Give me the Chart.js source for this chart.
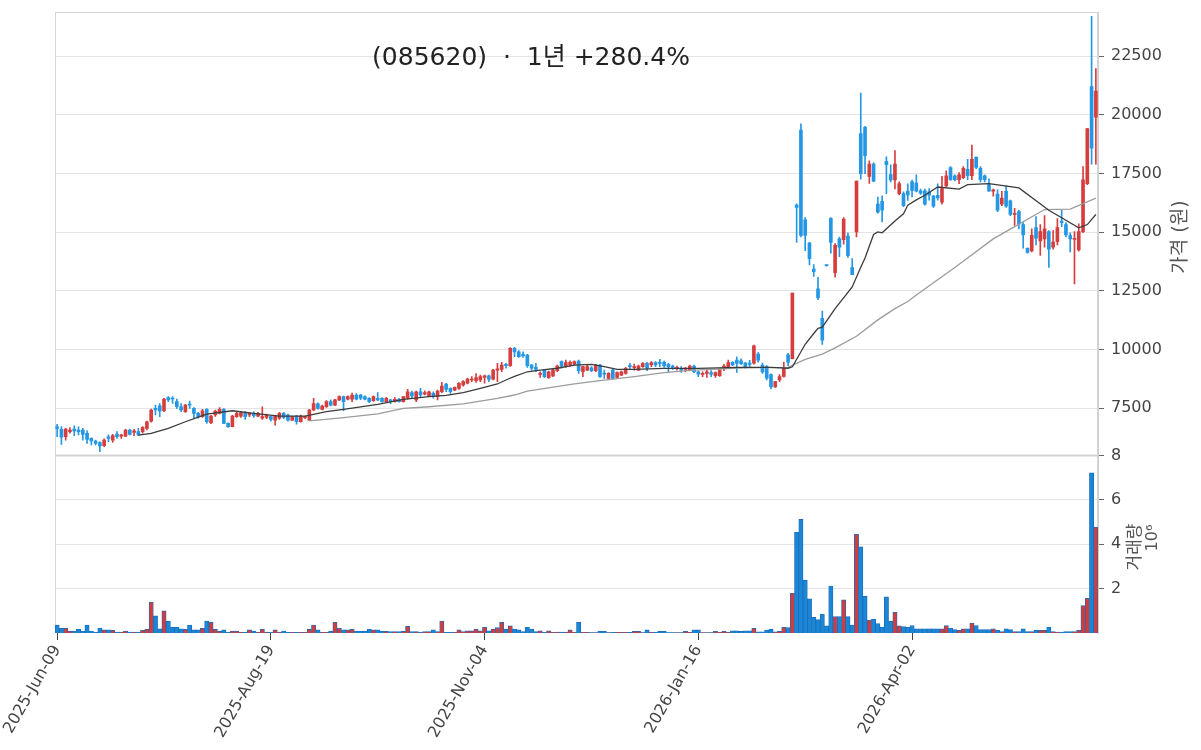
<!DOCTYPE html>
<html lang="ko">
<head>
<meta charset="UTF-8">
<title>085620 1년 차트</title>
<script src="https://cdn.jsdelivr.net/npm/chart.js"></script>
<style>
  html, body { margin: 0; background: #fff; }
  canvas { display: block; }
</style>
</head>
<body>
<canvas id="chart" width="1201" height="750"></canvas>
<script>
// daily OHLC (원), one entry per trading day
const openP = [
  6700,6600,6280,6500,6610,6570,6570,6430,6210,6100,
  6030,5900,6280,6140,6400,6310,6310,6570,6470,6500,
  6500,6640,6950,7490,7600,7390,7950,7920,7780,7560,
  7350,7660,7490,7280,7140,7450,6880,7210,7280,7450,
  6850,6710,7140,7160,7310,7210,7280,7160,7070,7110,
  7140,6990,7070,7280,7210,6990,7160,6920,7090,6990,
  7420,7680,7450,7560,7780,7630,7850,7990,7880,7880,
  8060,8060,7990,7920,7820,7920,7920,7780,7850,7780,
  7880,7780,7920,8160,7850,8200,8100,8020,8130,7990,
  8200,8530,8340,8270,8340,8490,8560,8700,8670,8700,
  8810,8880,8730,9120,9150,9370,9310,10050,9900,9790,
  9760,9340,9240,8940,9120,8800,8870,9100,9480,9290,
  9340,9370,9510,9050,9120,9220,9100,9340,8980,8770,
  9120,8810,8910,8980,9310,9220,9120,9270,9410,9340,
  9440,9450,9450,9370,9290,9200,9200,9150,9120,9290,
  9050,8940,8980,9010,8880,8880,9240,9270,9450,9550,
  9520,9420,9420,9420,9800,9340,9280,8930,8400,8700,
  8850,9770,9610,16150,19350,15520,14530,13420,12580,11330,
  13590,15590,13270,14710,14680,14830,13490,15010,19200,19460,
  17370,17900,16190,16310,18010,17450,17220,16640,16640,16750,
  17140,17090,16760,16760,16710,16530,16570,16270,16970,17750,
  17400,17230,17320,17670,17400,18190,17720,17400,17020,16740,
  16620,16190,16740,16330,15750,15870,15320,14310,14200,15190,
  14620,14710,15020,14360,14590,15470,15320,14850,14690,14240,
  15020,17060,21200,19890
];
const highP = [
  6810,6710,6640,6670,6750,6700,6640,6530,6240,6140,
  6070,6190,6360,6380,6500,6380,6600,6610,6600,6640,
  6710,6950,7460,7630,7700,7920,7990,7990,7890,7700,
  7660,7800,7520,7320,7450,7480,7190,7420,7520,7480,
  6870,7190,7320,7350,7350,7310,7340,7320,7560,7250,
  7160,7190,7320,7320,7250,7160,7190,7210,7160,7450,
  7920,7730,7630,7820,7850,7880,8030,8010,8030,8140,
  8120,8090,8030,7950,8030,8160,7950,7960,7880,7950,
  7920,7990,8300,8230,8230,8340,8240,8230,8200,8270,
  8600,8560,8370,8410,8590,8670,8780,8840,8970,8910,
  8910,8910,9150,9410,9450,9410,10080,10090,9950,9900,
  9790,9370,9410,9050,9150,9080,9170,9340,9520,9550,
  9520,9520,9550,9290,9340,9270,9370,9370,9120,9010,
  9150,9050,9080,9240,9410,9380,9340,9440,9450,9480,
  9480,9580,9510,9410,9340,9290,9270,9240,9340,9340,
  9080,9050,9150,9100,9050,9150,9370,9550,9480,9690,
  9600,9450,9540,10190,9870,9420,9310,8960,8640,8930,
  9460,9840,12400,16200,19610,15620,14560,13620,13070,11640,
  13610,15620,14510,14790,15620,14970,13870,17170,20920,19500,
  18030,17950,16490,16540,18210,17860,18470,17140,16720,17060,
  17220,17440,16830,16830,16850,16570,17060,17370,17610,17790,
  17440,17540,17790,18100,18710,18190,17790,17440,17270,16830,
  16800,16740,16970,16360,16010,15930,15400,14330,15140,15660,
  15320,15700,15060,15060,15580,15930,15400,14970,15020,15350,
  17790,19410,24190,21960
];
const lowP = [
  6280,5960,6140,6430,6330,6360,6140,6000,5930,5930,
  5650,5860,6070,6040,6210,6210,6280,6360,6330,6330,
  6430,6570,6900,7210,7140,7350,7780,7700,7490,7350,
  7320,7490,7090,7070,7110,6850,6840,7150,7250,6840,
  6680,6700,7100,7110,7020,7140,7110,7140,7020,7050,
  6950,6780,7020,7050,6950,6970,6820,6900,7050,6970,
  7390,7460,7420,7530,7590,7610,7820,7390,7850,7780,
  7850,7860,7850,7730,7790,7820,7750,7750,7690,7750,
  7750,7750,7880,7920,7780,7990,8060,7990,7920,7850,
  8160,8200,8130,8240,8300,8440,8530,8630,8600,8630,
  8560,8630,8700,8630,9050,9200,9280,9690,9660,9660,
  9240,9120,9050,8810,8800,8770,8840,9050,9200,9240,
  9280,9340,8980,8840,9100,9050,9050,8810,8770,8740,
  8730,8780,8880,8950,9150,9120,9100,9240,9100,9270,
  9270,9270,9240,9050,9150,9120,9020,9050,9100,9010,
  8840,8840,8810,8840,8810,8850,9100,9240,9310,9020,
  9360,9200,9270,9370,9460,8980,8700,8320,8380,8630,
  8820,9310,9600,14560,14790,14210,13600,13110,12120,10220,
  13550,14100,13080,13950,14480,13920,13190,14790,17250,17490,
  17070,17150,15810,15430,16640,17140,16840,16580,16080,16350,
  16500,16710,16600,16150,16360,16050,16360,16190,16920,17200,
  17180,17060,17270,17230,17230,17700,17140,17140,16740,16530,
  15870,16130,16050,15700,15280,15140,14310,14100,14150,14450,
  14010,14360,13490,14270,14450,15230,14790,14150,12790,14190,
  14970,17020,17890,17890
];
const closeP = [
  6640,6260,6610,6570,6530,6500,6380,6170,6100,6000,
  5890,6140,6210,6330,6280,6360,6570,6380,6530,6360,
  6680,6920,7420,7420,7380,7890,7850,7890,7560,7420,
  7630,7630,7280,7140,7390,6920,7160,7380,7450,6850,
  6710,7160,7280,7310,7140,7280,7180,7280,7140,7210,
  7020,7160,7280,7110,6990,7140,6920,7160,7140,7420,
  7700,7490,7590,7780,7630,7850,7990,7780,7990,8060,
  7880,7920,7880,7780,7990,7850,7780,7920,7780,7880,
  7780,7990,8200,8020,8200,8060,8160,8200,7990,8230,
  8440,8300,8200,8390,8560,8630,8740,8730,8800,8840,
  8880,8730,9120,9170,9340,9310,10050,9900,9690,9730,
  9310,9200,9150,8980,8840,9050,9120,9290,9290,9440,
  9450,9480,9100,9270,9270,9100,9340,8840,8950,8980,
  8770,9010,9050,9200,9270,9270,9290,9410,9200,9440,
  9340,9410,9310,9270,9240,9240,9120,9200,9290,9050,
  8950,8980,9050,8950,9010,9120,9290,9440,9340,9410,
  9400,9270,9360,10150,9540,9040,8780,8400,8630,8850,
  9190,9460,12400,16050,14860,14860,13870,13310,12200,10400,
  13570,14560,14440,14360,15550,14000,13190,17170,17490,18250,
  17900,17170,15850,15930,17870,17220,17900,17070,16120,16580,
  16780,16740,16660,16190,16570,16100,16450,16850,17400,17230,
  17230,17440,17720,17400,18100,17750,17230,17230,16740,16800,
  15930,16450,16100,15750,15800,15350,14880,14130,14860,14740,
  15020,15140,14270,14570,15190,15400,14880,14710,14730,15020,
  17230,19410,18570,21010
];
// 거래량 (백만 주)
const volM = [
  .36,.21,.21,.09,.09,.17,.09,.36,.09,.03,
  .21,.14,.14,.12,.04,.04,.09,.04,.04,.04,
  .12,.18,1.38,.77,.19,1.0,.54,.26,.26,.19,
  .17,.36,.14,.14,.21,.54,.48,.17,.07,.14,
  .03,.09,.09,.03,.03,.14,.09,.03,.17,.03,
  .03,.14,.03,.09,.03,.03,.03,.03,.03,.17,
  .36,.14,.03,.03,.09,.48,.21,.14,.14,.17,
  .09,.09,.09,.17,.14,.14,.08,.08,.06,.06,
  .06,.08,.3,.06,.06,.04,.06,.06,.14,.06,
  .54,.03,.03,.03,.14,.06,.1,.1,.18,.1,
  .26,.1,.18,.24,.48,.18,.32,.18,.14,.06,
  .26,.18,.06,.1,.03,.1,.03,.04,.04,.04,
  .14,.04,.48,.03,.03,.02,.02,.08,.08,.02,
  .03,.03,.03,.03,.03,.08,.08,.02,.14,.03,
  .03,.08,.08,.02,.02,.02,.02,.08,.03,.14,
  .14,.02,.02,.02,.08,.03,.08,.03,.1,.1,
  .08,.1,.1,.21,.05,.05,.13,.18,.05,.08,
  .26,.24,1.79,4.54,5.12,2.39,1.54,.71,.6,.84,
  .32,2.12,.74,.74,1.49,.74,.36,4.45,3.88,1.65,
  .58,.63,.42,.27,1.63,.53,.93,.32,.29,.26,
  .33,.19,.19,.19,.19,.19,.19,.19,.33,.22,
  .15,.12,.19,.19,.45,.33,.15,.15,.15,.19,
  .12,.06,.19,.15,.06,.06,.19,.06,.06,.12,
  .12,.12,.26,.06,.04,.04,.06,.06,.06,.12,
  1.24,1.56,7.22,4.78
];
// moving averages: [day index, value]
const ma20 = [
  [19,6355],[22,6430],[26,6640],[30,6920],[33,7120],[35,7250],[41,7390],[46,7280],
  [52,7160],[58,7160],[63,7350],[67,7450],[75,7660],[81,7870],[87,7990],[91,8045],
  [95,8160],[99,8340],[103,8530],[105,8700],[107,8850],[110,9050],[113,9120],[117,9200],
  [121,9330],[125,9365],[128,9266],[131,9150],[135,9150],[142,9195],[150,9195],[159,9234],
  [167,9234],[171,9200],[172,9260],[175,10220],[177,10680],[178,10900],[179,10950],[182,11740],
  [186,12660],[188,13500],[189,13900],[191,14900],[192,15010],[193,14970],[196,15470],[198,15780],
  [199,16150],[201,16370],[203,16570],[206,16920],[211,16830],[213,17020],[218,17060],[225,16880],
  [232,15930],[239,15180],[241,15320],[243,15750]
];
const ma60 = [
  [59,6960],[67,7100],[75,7260],[81,7490],[87,7560],[95,7680],[103,7920],[107,8060],
  [110,8230],[121,8530],[127,8670],[135,8840],[142,9010],[149,9120],[161,9220],[171,9234],
  [175,9580],[179,9800],[182,10070],[187,10560],[192,11260],[196,11740],[199,12045],[201,12320],
  [210,13490],[219,14710],[224,15230],[231,15960],[237,15980],[243,16450]
];
const tickIdx = [0, 50, 100, 150, 200];
const tickLabels = ['2025-Jun-09', '2025-Aug-19', '2025-Nov-04', '2026-Jan-16', '2026-Apr-02'];
const priceTicks = [7500, 10000, 12500, 15000, 17500, 20000, 22500];
const volTicks = [2, 4, 6, 8];

const FONT = '"DejaVu Sans", "Noto Sans CJK KR", sans-serif';
const UP = '#d63f3f', DOWN = '#2597e4';
const N = closeP.length;
const isUp = closeP.map((c, i) => c >= openP[i]);
const candleColor = isUp.map(u => u ? UP : DOWN);
const volColor = isUp.map(u => u ? '#d23c3c' : '#1a86d6');

const panelText = {
  id: 'panelText',
  beforeDatasetsDraw(chart) {
    const { ctx, chartArea: a, scales } = chart;
    ctx.save();
    ctx.strokeStyle = '#d6d6d6';
    ctx.lineWidth = 1;
    ctx.strokeRect(a.left + 0.5, a.top + 0.5, a.width - 1, a.height - 1);
    ctx.lineWidth = 2;
    ctx.strokeStyle = '#d3d3d3';
    ctx.beginPath();
    ctx.moveTo(a.left, scales.yv.top);
    ctx.lineTo(a.right, scales.yv.top);
    ctx.stroke();
    ctx.restore();
  },
  afterDraw(chart) {
    const { ctx, chartArea: a } = chart;
    ctx.save();
    ctx.fillStyle = '#222';
    ctx.font = '25px ' + FONT;
    ctx.textAlign = 'center';
    ctx.textBaseline = 'middle';
    ctx.fillText('(085620)  ·  1년 +280.4%', 531, 58);
    const vtext = (txt, x, y, size) => {
      ctx.save();
      ctx.translate(x, y);
      ctx.rotate(-Math.PI / 2);
      ctx.font = size + 'px ' + FONT;
      ctx.fillStyle = '#555';
      ctx.fillText(txt, 0, 0);
      ctx.restore();
    };
    vtext('가격 (원)', a.right + 83, 237, 19);
    vtext('거래량', a.right + 38, 547, 17);
    vtext('10⁶', a.right + 55, 538, 16);
    ctx.restore();
  }
};

new Chart(document.getElementById('chart'), {
  type: 'bar',
  data: {
    datasets: [
      {
        type: 'line', label: 'MA20', yAxisID: 'y', order: 0,
        data: ma20.map(([x, y]) => ({ x, y })),
        borderColor: '#3c3c3c', borderWidth: 1.3, pointRadius: 0, tension: 0
      },
      {
        type: 'line', label: 'MA60', yAxisID: 'y', order: 0,
        data: ma60.map(([x, y]) => ({ x, y })),
        borderColor: '#9c9c9c', borderWidth: 1.3, pointRadius: 0, tension: 0
      },
      {
        label: 'wick', yAxisID: 'y', order: 1, grouped: false,
        data: lowP.map((l, i) => ({ x: i, y: [l, highP[i]] })),
        backgroundColor: candleColor, barThickness: 1
      },
      {
        label: 'body', yAxisID: 'y', order: 1, grouped: false,
        data: openP.map((o, i) => ({ x: i, y: [o, closeP[i]] })),
        backgroundColor: candleColor, barThickness: 3, minBarLength: 1
      },
      {
        label: '거래량', yAxisID: 'yv', order: 1, grouped: false,
        data: volM.map((v, i) => ({ x: i, y: v })),
        backgroundColor: volColor, borderColor: '#1b6cba', borderWidth: 0.8,
        barPercentage: 1, categoryPercentage: 1
      }
    ]
  },
  options: {
    responsive: false,
    animation: false,
    devicePixelRatio: 1,
    layout: { padding: { left: 55, top: 12, right: 0, bottom: 0 } },
    plugins: { legend: { display: false }, tooltip: { enabled: false } },
    scales: {
      x: {
        type: 'linear', min: -0.5, max: N - 0.5, offset: false,
        grid: { drawOnChartArea: false, drawTicks: true, tickLength: 7, tickColor: '#444', offset: false },
        border: { display: false },
        afterBuildTicks: s => { s.ticks = tickIdx.map(v => ({ value: v })); },
        afterFit: s => { s.height = 117; s.paddingLeft = 0; s.paddingRight = 0; },
        ticks: {
          autoSkip: false, minRotation: 60, maxRotation: 60, padding: 2,
          color: '#444', font: { size: 16, family: FONT },
          callback: v => tickLabels[tickIdx.indexOf(v)]
        }
      },
      y: {
        type: 'linear', position: 'right', stack: 'panels', stackWeight: 2.5,
        min: 5480, max: 24375,
        grid: { color: '#e4e4e4', tickLength: 6, tickColor: '#666' },
        border: { color: '#cfcfcf' },
        afterBuildTicks: s => { s.ticks = priceTicks.map(v => ({ value: v })); },
        afterFit: s => { s.width = 103; s.paddingTop = 0; s.paddingBottom = 0; },
        ticks: { color: '#444', padding: 7, font: { size: 16, family: FONT }, callback: v => String(v) }
      },
      yv: {
        type: 'linear', position: 'right', stack: 'panels', stackWeight: 1,
        min: 0, max: 8,
        grid: { color: '#e4e4e4', tickLength: 6, tickColor: '#666' },
        border: { color: '#cfcfcf' },
        afterBuildTicks: s => { s.ticks = volTicks.map(v => ({ value: v })); },
        afterFit: s => { s.width = 103; s.paddingTop = 0; s.paddingBottom = 0; },
        ticks: { color: '#444', padding: 7, font: { size: 16, family: FONT }, callback: v => String(v) }
      }
    }
  },
  plugins: [panelText]
});
</script>
</body>
</html>
